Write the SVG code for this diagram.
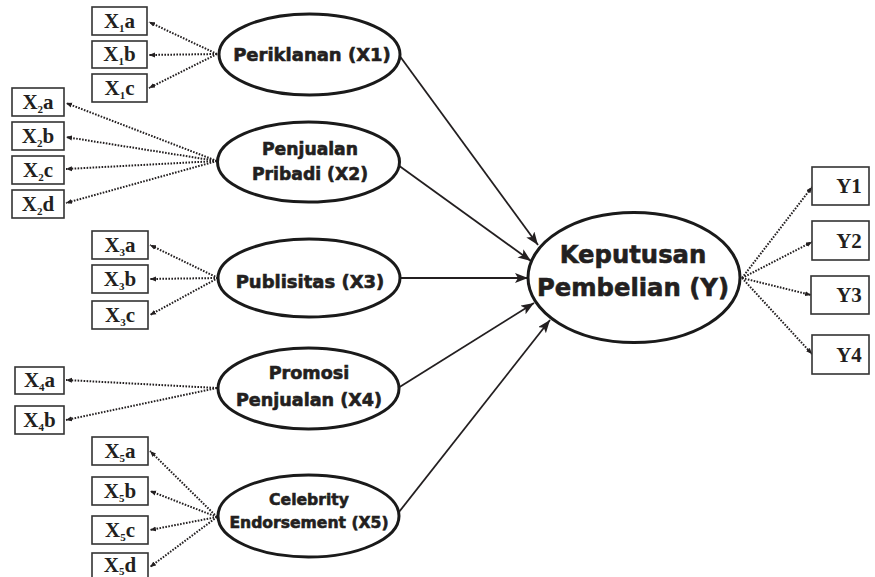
<svg xmlns="http://www.w3.org/2000/svg" width="875" height="577" viewBox="0 0 875 577">
<style>
.box{fill:#fff;stroke:#333;stroke-width:1.6}
.lbl{font-family:"Liberation Serif","Times New Roman",serif;font-weight:bold;font-size:21px;fill:#231f20;text-anchor:middle}
.sub{font-size:11px}
.ell{fill:#fff;stroke:#1a1a1a;stroke-width:3}
.et{font-family:"DejaVu Sans",sans-serif;font-weight:bold;fill:#231f20;stroke:#231f20;stroke-width:0.6;text-anchor:middle}
.dot{stroke:#231f20;stroke-width:2;stroke-dasharray:1.6 1.4;fill:none}
.sol{stroke:#231f20;stroke-width:1.8;fill:none}
</style>
<defs>
<marker id="ah" markerUnits="userSpaceOnUse" markerWidth="14" markerHeight="12" refX="13" refY="5" orient="auto">
<path d="M0,0 L13,5 L0,10 L3,5 z" fill="#231f20"/>
</marker>
<marker id="dh" markerUnits="userSpaceOnUse" markerWidth="7" markerHeight="6" refX="6" refY="3" orient="auto">
<path d="M0,0.5 L6,3 L0,5.5 z" fill="#231f20"/>
</marker>
</defs>
<g id="connectors">
<line class="dot" x1="217" y1="54" x2="149" y2="22" marker-end="url(#dh)"/>
<line class="dot" x1="217" y1="54" x2="149" y2="55" marker-end="url(#dh)"/>
<line class="dot" x1="217" y1="54" x2="149" y2="88" marker-end="url(#dh)"/>
<line class="dot" x1="217" y1="161" x2="66" y2="103" marker-end="url(#dh)"/>
<line class="dot" x1="217" y1="161" x2="66" y2="137" marker-end="url(#dh)"/>
<line class="dot" x1="217" y1="161" x2="66" y2="169" marker-end="url(#dh)"/>
<line class="dot" x1="217" y1="161" x2="66" y2="203" marker-end="url(#dh)"/>
<line class="dot" x1="218" y1="278" x2="150" y2="245" marker-end="url(#dh)"/>
<line class="dot" x1="218" y1="278" x2="150" y2="279" marker-end="url(#dh)"/>
<line class="dot" x1="218" y1="278" x2="150" y2="315" marker-end="url(#dh)"/>
<line class="dot" x1="217" y1="388" x2="66" y2="380" marker-end="url(#dh)"/>
<line class="dot" x1="217" y1="388" x2="66" y2="420" marker-end="url(#dh)"/>
<line class="dot" x1="217" y1="517" x2="150" y2="451" marker-end="url(#dh)"/>
<line class="dot" x1="217" y1="517" x2="150" y2="491" marker-end="url(#dh)"/>
<line class="dot" x1="217" y1="517" x2="150" y2="530" marker-end="url(#dh)"/>
<line class="dot" x1="217" y1="517" x2="150" y2="567" marker-end="url(#dh)"/>
<line class="dot" x1="742" y1="278" x2="812" y2="187" marker-end="url(#dh)"/>
<line class="dot" x1="742" y1="278" x2="812" y2="242" marker-end="url(#dh)"/>
<line class="dot" x1="742" y1="278" x2="811" y2="295" marker-end="url(#dh)"/>
<line class="dot" x1="742" y1="278" x2="812" y2="354" marker-end="url(#dh)"/>
<line class="sol" x1="399" y1="55" x2="538" y2="245" marker-end="url(#ah)"/>
<line class="sol" x1="398" y1="165" x2="531" y2="261" marker-end="url(#ah)"/>
<line class="sol" x1="400" y1="278" x2="528" y2="278" marker-end="url(#ah)"/>
<line class="sol" x1="398" y1="388" x2="534" y2="303" marker-end="url(#ah)"/>
<line class="sol" x1="399" y1="512" x2="550" y2="320" marker-end="url(#ah)"/>
</g>
<g id="x1a"><rect class="box" x="92" y="7" width="55" height="28"/><text class="lbl" x="119.5" y="28">X<tspan class="sub" dy="4">1</tspan><tspan dy="-4">a</tspan></text></g>
<g id="x1b"><rect class="box" x="92" y="41" width="55" height="27"/><text class="lbl" x="119.5" y="61">X<tspan class="sub" dy="4">1</tspan><tspan dy="-4">b</tspan></text></g>
<g id="x1c"><rect class="box" x="92" y="74" width="55" height="28"/><text class="lbl" x="119.5" y="95">X<tspan class="sub" dy="4">1</tspan><tspan dy="-4">c</tspan></text></g>
<g id="x2a"><rect class="box" x="12" y="88" width="52" height="28"/><text class="lbl" x="38" y="109">X<tspan class="sub" dy="4">2</tspan><tspan dy="-4">a</tspan></text></g>
<g id="x2b"><rect class="box" x="12" y="122" width="52" height="28"/><text class="lbl" x="38" y="143">X<tspan class="sub" dy="4">2</tspan><tspan dy="-4">b</tspan></text></g>
<g id="x2c"><rect class="box" x="12" y="156" width="52" height="28"/><text class="lbl" x="38" y="177">X<tspan class="sub" dy="4">2</tspan><tspan dy="-4">c</tspan></text></g>
<g id="x2d"><rect class="box" x="12" y="190" width="52" height="28"/><text class="lbl" x="38" y="211">X<tspan class="sub" dy="4">2</tspan><tspan dy="-4">d</tspan></text></g>
<g id="x3a"><rect class="box" x="92" y="231" width="56" height="28"/><text class="lbl" x="120" y="252">X<tspan class="sub" dy="4">3</tspan><tspan dy="-4">a</tspan></text></g>
<g id="x3b"><rect class="box" x="92" y="265" width="56" height="28"/><text class="lbl" x="120" y="286">X<tspan class="sub" dy="4">3</tspan><tspan dy="-4">b</tspan></text></g>
<g id="x3c"><rect class="box" x="92" y="301" width="56" height="28"/><text class="lbl" x="120" y="322">X<tspan class="sub" dy="4">3</tspan><tspan dy="-4">c</tspan></text></g>
<g id="x4a"><rect class="box" x="15" y="367" width="49" height="27"/><text class="lbl" x="39.5" y="387">X<tspan class="sub" dy="4">4</tspan><tspan dy="-4">a</tspan></text></g>
<g id="x4b"><rect class="box" x="15" y="406" width="49" height="28"/><text class="lbl" x="39.5" y="427">X<tspan class="sub" dy="4">4</tspan><tspan dy="-4">b</tspan></text></g>
<g id="x5a"><rect class="box" x="92" y="437" width="56" height="28"/><text class="lbl" x="120" y="458">X<tspan class="sub" dy="4">5</tspan><tspan dy="-4">a</tspan></text></g>
<g id="x5b"><rect class="box" x="92" y="477" width="56" height="28"/><text class="lbl" x="120" y="498">X<tspan class="sub" dy="4">5</tspan><tspan dy="-4">b</tspan></text></g>
<g id="x5c"><rect class="box" x="92" y="516" width="56" height="28"/><text class="lbl" x="120" y="537">X<tspan class="sub" dy="4">5</tspan><tspan dy="-4">c</tspan></text></g>
<g id="x5d"><rect class="box" x="92" y="553" width="56" height="28"/><text class="lbl" x="120" y="572">X<tspan class="sub" dy="2.5">5</tspan><tspan dy="-2.5">d</tspan></text></g>
<g id="y1"><rect class="box" x="812" y="167" width="57" height="38"/><text class="lbl" x="849" y="193">Y1</text></g>
<g id="y2"><rect class="box" x="812" y="221" width="57" height="39"/><text class="lbl" x="849" y="248">Y2</text></g>
<g id="y3"><rect class="box" x="811" y="276" width="58" height="38"/><text class="lbl" x="849" y="302">Y3</text></g>
<g id="y4"><rect class="box" x="812" y="335" width="57" height="39"/><text class="lbl" x="849" y="362">Y4</text></g>
<g id="periklanan"><ellipse class="ell" cx="309.5" cy="54.5" rx="90.5" ry="40.5"/><text class="et" x="312" y="61" font-size="18">Periklanan (X1)</text></g>
<g id="penjualan-pribadi"><ellipse class="ell" cx="308.5" cy="162" rx="91" ry="40"/><text class="et" x="310" y="155" font-size="17.2">Penjualan</text><text class="et" x="310" y="180" font-size="17.2">Pribadi (X2)</text></g>
<g id="publisitas"><ellipse class="ell" cx="309" cy="278" rx="91" ry="39"/><text class="et" x="310" y="288" font-size="18">Publisitas (X3)</text></g>
<g id="promosi-penjualan"><ellipse class="ell" cx="308.5" cy="388.5" rx="90.5" ry="40.5"/><text class="et" x="309" y="379" font-size="17.6">Promosi</text><text class="et" x="309" y="406" font-size="17.6">Penjualan (X4)</text></g>
<g id="celebrity-endorsement"><ellipse class="ell" cx="308.5" cy="516" rx="90.5" ry="41"/><text class="et" x="309" y="505" font-size="15.6">Celebrity</text><text class="et" x="309" y="528" font-size="15.6">Endorsement (X5)</text></g>
<g id="keputusan-pembelian"><ellipse class="ell" cx="634" cy="277.5" rx="106" ry="65" stroke-width="4"/><text class="et" x="633" y="263" font-size="24.3">Keputusan</text><text class="et" x="633" y="296" font-size="24.3">Pembelian (Y)</text></g>
</svg>
